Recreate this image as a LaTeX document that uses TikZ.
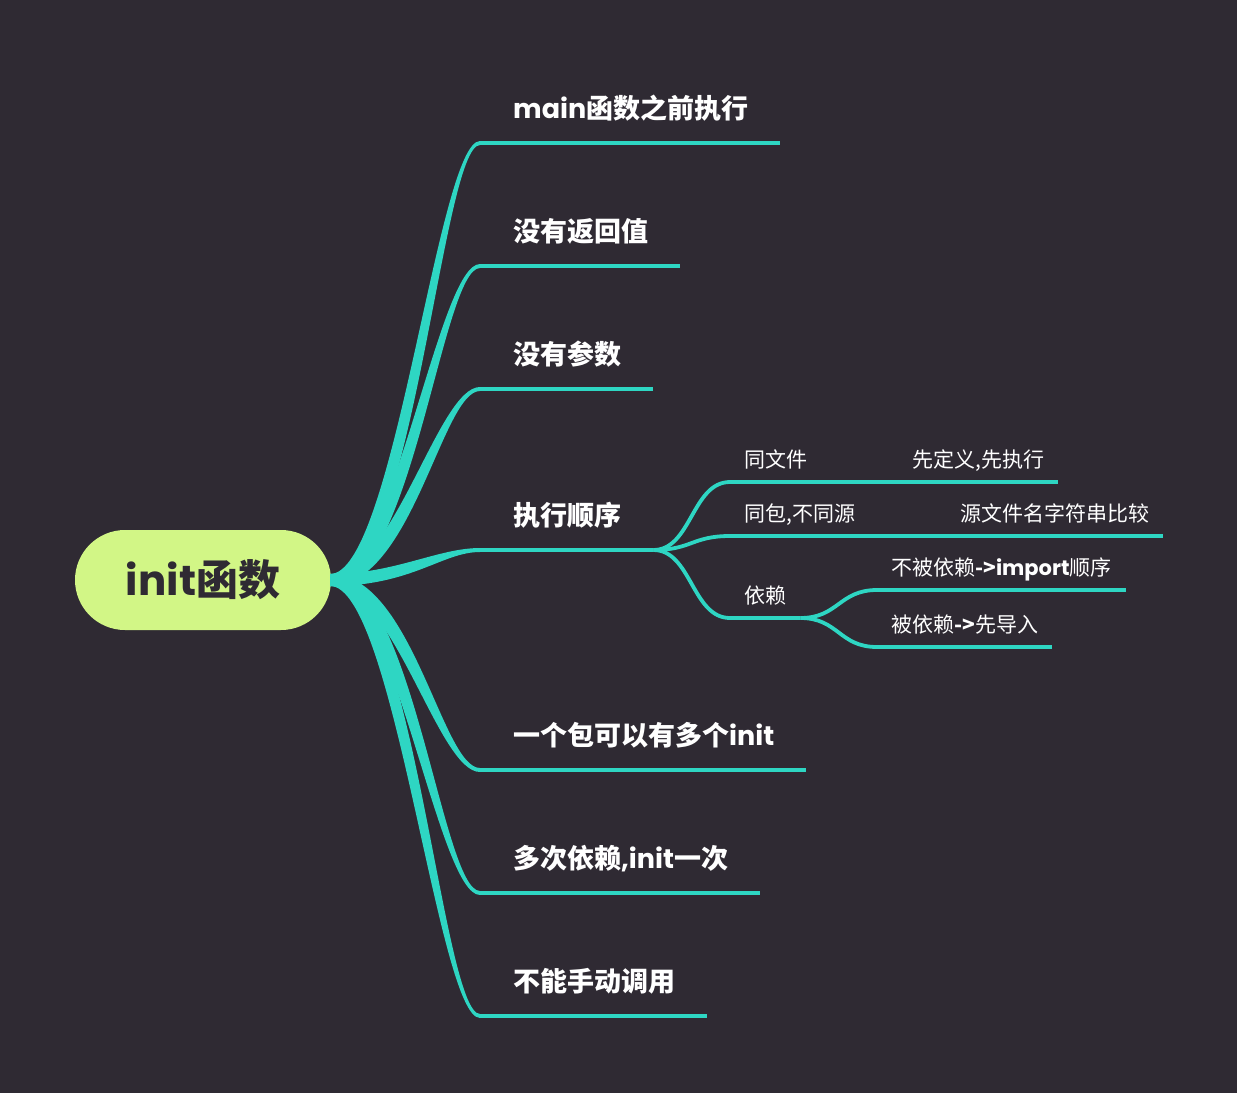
\documentclass[tikz,border=0pt]{standalone}
\usepackage{fontspec}
\usetikzlibrary{calc}
\newfontfamily\cjk{Noto Sans CJK SC}
\newfontfamily\lat{Poppins}
\newcommand\lt[1]{{\lat\bfseries #1}}
\definecolor{bgc}{RGB}{47,42,51}
\definecolor{tl}{RGB}{46,214,195}
\definecolor{lime}{RGB}{210,246,134}
\newcommand\branch[3]{%
 \fill[brfill] ($(#1)+(-1,-6)$) .. controls ($(#1)+(72+#3*9,-6)$) and ($(#2)+(-40+#3*2,-2)$) .. ($(#2)+(0,-2)$)
   -- ($(#2)+(0,2)$) .. controls ($(#2)+(-40-#3*2,2)$) and ($(#1)+(72-#3*9,6)$) .. ($(#1)+(-1,6)$) -- cycle;}
\tikzset{
 brfill/.style={fill=tl},
 mline/.style={draw=tl, line width=4pt},
 sline/.style={draw=tl, line width=3.8pt},
 root/.style={fill=lime, rounded corners=50pt, minimum width=256pt, minimum height=100pt, inner sep=0pt,
   text=bgc, font=\cjk\bfseries\fontsize{42}{46}\selectfont},
 mlbl/.style={anchor=base west, inner xsep=32pt, inner ysep=0pt, text=white, font=\cjk\bfseries\fontsize{27}{30}\selectfont},
 slbl/.style={anchor=base west, inner xsep=14pt, inner ysep=0pt, text=white, font=\cjk\fontsize{21}{24}\selectfont},
}
\begin{document}
\begin{tikzpicture}[x=1pt,y=-1pt]
\fill[bgc] (0,0) rectangle (1237,1093);
\useasboundingbox (0,0) rectangle (1237,1093);

\node[root] (root) at (203,580) {\lt{init}函数};

% main labels
\node[mlbl] (m1) at (481,118) {\lt{main}函数之前执行};
\node[mlbl] (m2) at (481,241) {没有返回值};
\node[mlbl] (m3) at (481,364) {没有参数};
\node[mlbl] (m4) at (481,525) {执行顺序};
\node[mlbl] (m5) at (481,745) {一个包可以有多个\lt{init}};
\node[mlbl] (m6) at (481,868) {多次依赖\lt{,init}一次};
\node[mlbl] (m7) at (481,991) {不能手动调用};

\coordinate (c1) at (480,143);
\coordinate (c2) at (480,266);
\coordinate (c3) at (480,389);
\coordinate (c4) at (480,550);
\coordinate (c5) at (480,770);
\coordinate (c6) at (480,893);
\coordinate (c7) at (480,1016);

\branch{root.east}{c1}{-1}
\branch{root.east}{c2}{-1}
\branch{root.east}{c3}{-1}
\branch{root.east}{c4}{-1}
\branch{root.east}{c5}{1}
\branch{root.east}{c6}{1}
\branch{root.east}{c7}{1}

\foreach \i in {1,...,7}{\draw[mline] (c\i) -- (c\i -| m\i.east);}
\coordinate (m4e) at (c4 -| m4.east);

% second level
\node[slbl] (s1) at (730,467.5) {同文件};
\node[slbl] (s1c) at (898,467.5) {先定义,先执行};
\node[slbl] (s2) at (730,521.5) {同包,不同源};
\node[slbl] (s2c) at (946,521.5) {源文件名字符串比较};
\node[slbl] (s3) at (730,603.5) {依赖};
\node[slbl] (s3a) at (877,575.5) {不被依赖{\bfseries->}\lt{import}顺序};
\node[slbl] (s3b) at (877,632.5) {被依赖{\bfseries->}先导入};

\coordinate (d1) at (730,482);
\coordinate (d1c) at (898,482);
\coordinate (d2) at (730,536);
\coordinate (d2c) at (946,536);
\coordinate (d3) at (730,618);
\coordinate (d3a) at (877,590);
\coordinate (d3b) at (877,647);

\draw[sline] (m4e) .. controls ($(m4e)+(38,0)$) and ($(d1)+(-38,0)$) .. (d1);
\draw[sline] (m4e) .. controls ($(m4e)+(38,0)$) and ($(d2)+(-38,0)$) .. (d2);
\draw[sline] (m4e) .. controls ($(m4e)+(38,0)$) and ($(d3)+(-38,0)$) .. (d3);
\draw[sline] (d1) -- (d1c);
\draw[sline] (d1c) -- (d1c -| s1c.east);
\draw[sline] (d2) -- (d2c);
\draw[sline] (d2c) -- (d2c -| s2c.east);
\draw[sline] (d3) -- (d3 -| s3.east);
\coordinate (s3e) at (d3 -| s3.east);
\draw[sline] (s3e) .. controls ($(s3e)+(38,0)$) and ($(d3a)+(-38,0)$) .. (d3a);
\draw[sline] (s3e) .. controls ($(s3e)+(38,0)$) and ($(d3b)+(-38,0)$) .. (d3b);
\draw[sline] (d3a) -- (d3a -| s3a.east);
\draw[sline] (d3b) -- (d3b -| s3b.east);
\end{tikzpicture}
\end{document}
